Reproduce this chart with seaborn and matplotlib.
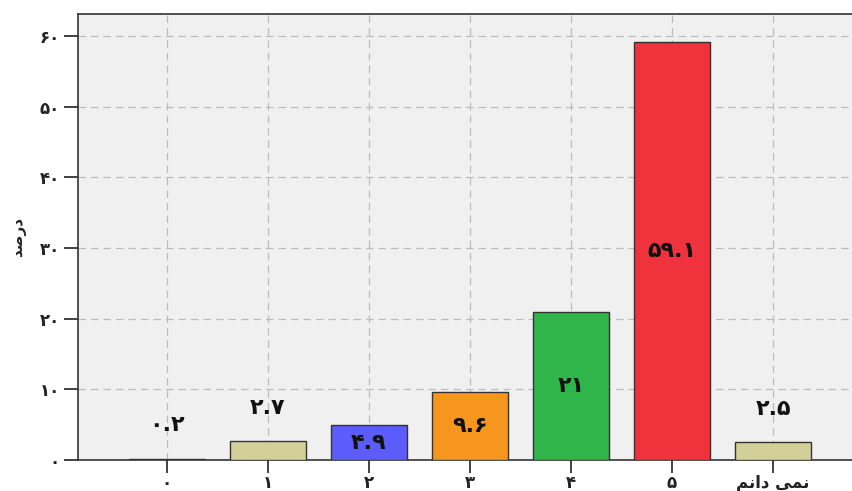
import matplotlib
matplotlib.use("Agg")
import matplotlib.pyplot as plt
import seaborn as sns
import pandas as pd

# === data ===
categories = ["0", "1", "2", "3", "4", "5", "dk"]
values = [0.2, 2.7, 4.9, 9.6, 21, 59.1, 2.5]
bar_colors = ["#d3cf98", "#d3cf98", "#5c5cfa", "#f7961f", "#2fb54a", "#f0323c", "#d3cf98"]
inside_label = [False, False, True, True, True, True, False]
y_ticks = [0, 10, 20, 30, 40, 50, 60]

# presentation forms in visual order (matplotlib has no bidi shaping)
x_labels = ["\u06f0", "\u06f1", "\u06f2", "\u06f3", "\u06f4", "\u06f5",
            "\ufee2\ufee7\ufe8d\ufea9 \ufef0\ufee4\ufee7"]   # نمی دانم
y_title = "\ufeaa\ufebb\ufead\ufea9"   # درصد

fa_digits = str.maketrans("0123456789", "\u06f0\u06f1\u06f2\u06f3\u06f4\u06f5\u06f6\u06f7\u06f8\u06f9")


def to_fa(v):
    s = f"{v:g}"
    return s.translate(fa_digits)


sns.set_theme(style="whitegrid")
plt.rcParams["font.family"] = ["DejaVu Sans"]

df = pd.DataFrame({"cat": categories, "val": values})

fig = plt.figure(figsize=(8.53, 4.91), dpi=100)
ax = fig.add_axes([78 / 853, 31 / 491, (862 - 78) / 853, (460 - 14) / 491])

sns.barplot(data=df, x="cat", y="val", hue="cat", palette=bar_colors,
            legend=False, width=0.75, edgecolor="#333333", linewidth=1,
            saturation=1, ax=ax, zorder=3)

ax.set_facecolor("#f0f0f0")
ax.set_xlim(-0.88, 6.88)
ax.set_ylim(0, 63.1)
ax.set_yticks(y_ticks)
ax.set_yticklabels([to_fa(t) for t in y_ticks], fontsize=12, fontweight="bold", color="#222222")
ax.set_xticks(range(len(categories)))
ax.set_xticklabels(x_labels, fontsize=12, fontweight="bold", color="#222222")
ax.set_xlabel("")
ax.set_ylabel(y_title, fontsize=11, fontweight="bold", labelpad=10)

ax.grid(True, axis="both", linestyle=(0, (6, 4)), color="#bcbcbc", linewidth=0.9, zorder=0)
ax.set_axisbelow(True)
for side in ["left", "bottom", "top", "right"]:
    ax.spines[side].set_color("#333333")
    ax.spines[side].set_linewidth(1.2)
ax.tick_params(axis="y", which="major", length=10, width=1.3, color="#333333",
               left=True, pad=3)
ax.tick_params(axis="x", which="major", length=9, width=1.3, color="#333333",
               bottom=True, pad=1)

# value labels
for i, (v, inside) in enumerate(zip(values, inside_label)):
    if inside:
        ax.text(i, v / 2, to_fa(v), ha="center", va="center",
                fontsize=16, fontweight="bold", color="#111111", zorder=4)
    else:
        ax.annotate(to_fa(v), (i, v), xytext=(0, 24), textcoords="offset points",
                    ha="center", va="center", fontsize=16, fontweight="bold",
                    color="#111111", zorder=4)

fig.savefig("out.png", dpi=100)
